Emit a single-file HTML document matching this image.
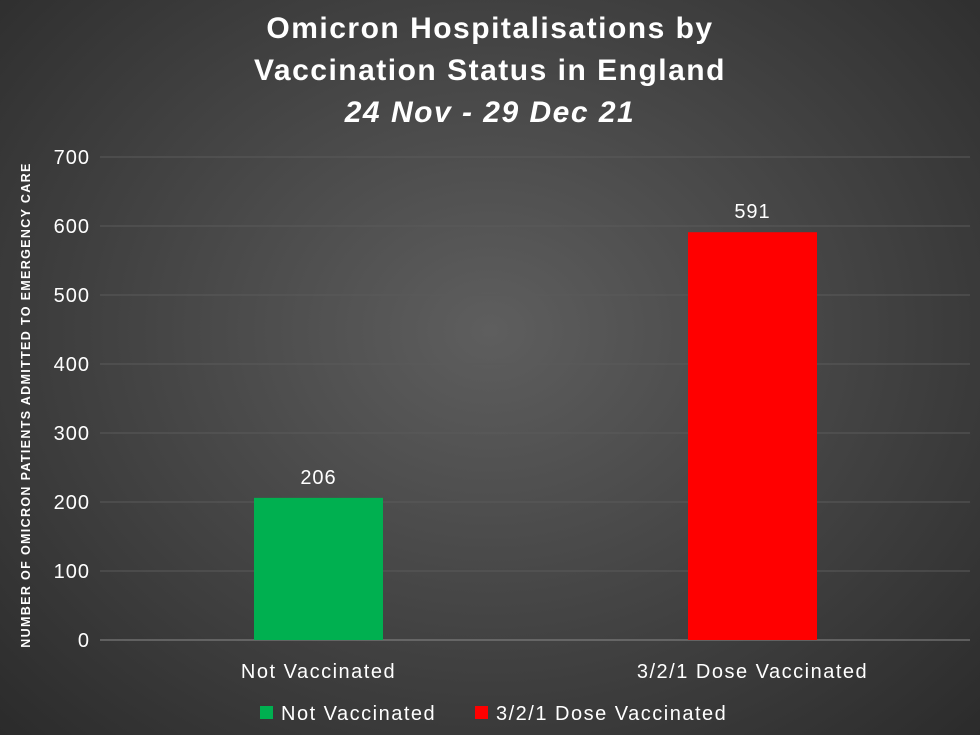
<!DOCTYPE html>
<html><head><meta charset="utf-8"><style>
html,body{margin:0;padding:0;}
body{width:980px;height:735px;overflow:hidden;background:radial-gradient(ellipse at 50% 45%,#5e5e5e 0%,#474747 45%,#2b2b2b 100%);font-family:"Liberation Sans",sans-serif;}
svg{display:block}
</style></head><body>
<svg id="chart" width="980" height="735" xmlns="http://www.w3.org/2000/svg">
<g fill="#fff" font-weight="bold" font-size="30" text-anchor="middle" letter-spacing="1.5" font-family="Liberation Sans, sans-serif">
<text x="490" y="38">Omicron Hospitalisations by</text>
<text x="490" y="80">Vaccination Status in England</text>
<text x="490" y="122" font-style="italic">24 Nov - 29 Dec 21</text>
</g>
<text transform="translate(30,405) rotate(-90)" text-anchor="middle" fill="#fff" font-size="12.5" font-weight="bold" letter-spacing="1.35">NUMBER OF OMICRON PATIENTS ADMITTED TO EMERGENCY CARE</text>
<g id="grid"></g><g id="bars"></g>
</svg>
<script>
const categories=["Not Vaccinated","3/2/1 Dose Vaccinated"];
const values=[206,591];
const colors=["#00b050","#ff0000"];
const yTicks=[0,100,200,300,400,500,600,700];
const NS="http://www.w3.org/2000/svg";
const svg=document.getElementById('chart');
const y=v=>640-v*(483/700);
const xCenter=i=>318.5+i*434;
const grid=document.getElementById('grid'),bars=document.getElementById('bars');
function mk(t,a,p){const e=document.createElementNS(NS,t);for(const k in a)e.setAttribute(k,a[k]);p.appendChild(e);return e;}
yTicks.forEach(t=>{
 const l=mk('line',{x1:100,x2:970,y1:y(t),y2:y(t),stroke:t===0?'#8a8a8a':'#5a5a5a','stroke-width':1},grid);
 
 
 const tx=mk('text',{x:90,y:y(t)+7,'text-anchor':'end',fill:'#fff','font-size':20,'letter-spacing':1},grid);
 tx.textContent=t;
 
 
});
categories.forEach((c,i)=>{
 const r=mk('rect',{x:xCenter(i)-64.5,y:y(values[i]),width:129,height:640-y(values[i]),fill:colors[i]},bars);
 
 
 const v=mk('text',{x:xCenter(i),y:y(values[i])-14,'text-anchor':'middle',fill:'#fff','font-size':20,'letter-spacing':1},bars);
 v.textContent=values[i];
 
 
 const cl=mk('text',{x:xCenter(i),y:678,'text-anchor':'middle',fill:'#fff','font-size':20,'letter-spacing':1.5},bars);
 cl.textContent=c;
 
 
});
const legX=[260,475];
categories.forEach((c,i)=>{
 const g=mk('g',{},svg);
 
 
 mk('rect',{x:legX[i],y:706,width:13,height:13,fill:colors[i]},g);
 const t=mk('text',{x:legX[i]+21,y:720,fill:'#fff','font-size':20,'letter-spacing':1.5},g);
 t.textContent=c;
});
</script>
</body></html>
